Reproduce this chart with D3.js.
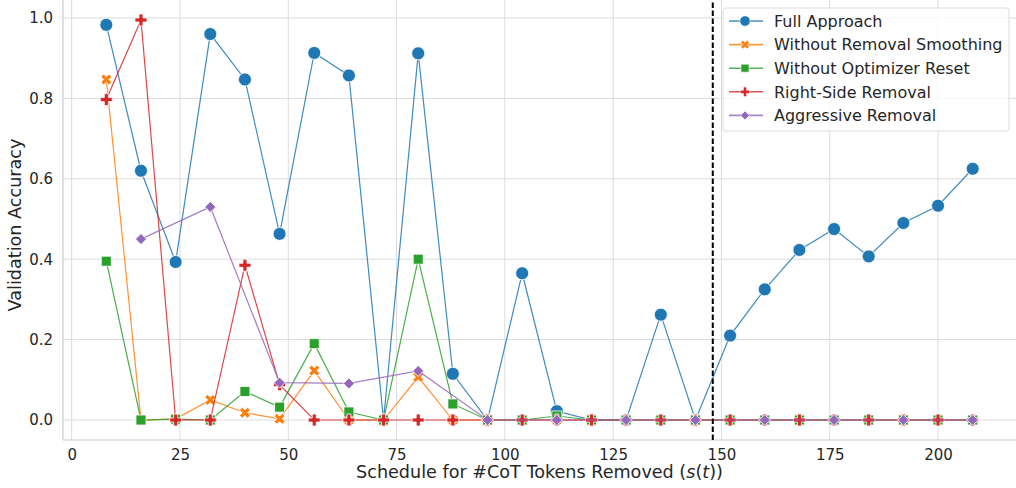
<!DOCTYPE html>
<html>
<head>
<meta charset="utf-8">
<script src="https://cdn.jsdelivr.net/npm/d3@7"></script>
<style>
  body { margin: 0; background: #fff; }
  svg { font-family: "DejaVu Sans", sans-serif; }
</style>
</head>
<body>
<div id="chart"></div>
<script>
// schedule steps
var stepsAll = d3.range(8, 209, 8);
var stepsAggr = d3.range(16, 209, 16);

var fullApproach = [0.983, 0.620, 0.393, 0.960, 0.847, 0.463, 0.913, 0.857, 0.0, 0.912, 0.115, 0.0, 0.365,
    0.022, 0.0, 0.0, 0.262, 0.0, 0.210, 0.325, 0.423, 0.475, 0.407, 0.490, 0.533, 0.625];
var noSmoothing = [0.847, 0.0, 0.003, 0.050, 0.018, 0.003, 0.123, 0.0, 0.0, 0.107, 0.0, 0.0, 0.0,
    0.0, 0.0, 0.0, 0.0, 0.0, 0.0, 0.0, 0.0, 0.0, 0.0, 0.0, 0.0, 0.0];
var noOptReset = [0.395, 0.0, 0.002, 0.0, 0.071, 0.032, 0.190, 0.020, 0.0, 0.400, 0.040, 0.0, 0.0,
    0.010, 0.0, 0.0, 0.0, 0.0, 0.0, 0.0, 0.0, 0.0, 0.0, 0.0, 0.0, 0.0];
var rightSide = [0.797, 0.995, 0.0, 0.0, 0.385, 0.088, 0.0, 0.0, 0.0, 0.0, 0.0, 0.0, 0.0,
    0.0, 0.0, 0.0, 0.0, 0.0, 0.0, 0.0, 0.0, 0.0, 0.0, 0.0, 0.0, 0.0];
var aggressive = [0.450, 0.530, 0.093, 0.091, 0.122, 0.0, 0.0, 0.0, 0.0, 0.0, 0.0, 0.0, 0.0];

var seriesNames = ['Full Approach', 'Without Removal Smoothing', 'Without Optimizer Reset',
    'Right-Side Removal', 'Aggressive Removal'];
var seriesColors = ['#1f77b4', '#ff7f0e', '#2ca02c', '#d62728', '#9467bd'];
var seriesMarkers = ['circle', 'x', 'square', 'plus', 'diamond'];
var cutoff = 148;

var xTicks = [0, 25, 50, 75, 100, 125, 150, 175, 200];
var yTicks = [0.0, 0.2, 0.4, 0.6, 0.8, 1.0];

var series = [
    { x: stepsAll, y: fullApproach },
    { x: stepsAll, y: noSmoothing },
    { x: stepsAll, y: noOptReset },
    { x: stepsAll, y: rightSide },
    { x: stepsAggr, y: aggressive }
].map(function(s, i) {
    return {
        name: seriesNames[i],
        color: seriesColors[i],
        marker: seriesMarkers[i],
        points: s.x.map(function(v, j) { return { x: v, y: s.y[j] }; })
    };
});

var width = 1016, height = 488;
var m = { top: 0, right: 0, bottom: 48, left: 63 };

var svg = d3.select('#chart').append('svg')
    .attr('width', width)
    .attr('height', height);

var x = d3.scaleLinear().domain([-2, 218]).range([m.left, width - m.right]);
var y = d3.scaleLinear().domain([-0.0497, 1.0447]).range([height - m.bottom, m.top]);

var textColor = '#262626';
var gridColor = '#dcdcdc';

// grid
svg.append('g').selectAll('line.gx')
    .data(xTicks).enter().append('line')
    .attr('x1', function(d) { return x(d); }).attr('x2', function(d) { return x(d); })
    .attr('y1', y.range()[0]).attr('y2', y.range()[1])
    .attr('stroke', gridColor).attr('stroke-width', 1);
svg.append('g').selectAll('line.gy')
    .data(yTicks).enter().append('line')
    .attr('y1', function(d) { return y(d); }).attr('y2', function(d) { return y(d); })
    .attr('x1', x.range()[0]).attr('x2', x.range()[1])
    .attr('stroke', gridColor).attr('stroke-width', 1);

// spines
svg.append('line').attr('x1', x.range()[0]).attr('x2', x.range()[0])
    .attr('y1', y.range()[0]).attr('y2', y.range()[1])
    .attr('stroke', '#cccccc').attr('stroke-width', 1.2);
svg.append('line').attr('x1', x.range()[0]).attr('x2', x.range()[1])
    .attr('y1', y.range()[0]).attr('y2', y.range()[0])
    .attr('stroke', '#cccccc').attr('stroke-width', 1.2);

// axes (labels only, seaborn whitegrid has no tick marks)
var xAxis = svg.append('g')
    .attr('transform', 'translate(0,' + y.range()[0] + ')')
    .call(d3.axisBottom(x).tickValues(xTicks).tickSize(0).tickPadding(9).tickFormat(d3.format('d')));
var yAxis = svg.append('g')
    .attr('transform', 'translate(' + x.range()[0] + ',0)')
    .call(d3.axisLeft(y).tickValues(yTicks).tickSize(0).tickPadding(10).tickFormat(d3.format('.1f')));
[xAxis, yAxis].forEach(function(a) {
    a.select('.domain').remove();
    a.selectAll('text').attr('fill', textColor)
        .style('font-size', '15px').style('font-family', '"DejaVu Sans", sans-serif');
});

// axis titles
var xl = svg.append('text')
    .attr('x', (x.range()[0] + x.range()[1]) / 2)
    .attr('y', 478)
    .attr('text-anchor', 'middle')
    .attr('fill', textColor)
    .style('font-size', '17.6px');
xl.append('tspan').text('Schedule for #CoT Tokens Removed (');
xl.append('tspan').attr('font-style', 'italic').text('s');
xl.append('tspan').text('(');
xl.append('tspan').attr('font-style', 'italic').text('t');
xl.append('tspan').text('))');

svg.append('text')
    .attr('transform', 'translate(21,225) rotate(-90)')
    .attr('text-anchor', 'middle')
    .attr('fill', textColor)
    .style('font-size', '17.6px')
    .text('Validation Accuracy');

// marker paths
function markerPath(type, s) {
    var h = s / 2;
    if (type === 'circle') {
        return d3.symbol(d3.symbolCircle, Math.PI * h * h)();
    }
    if (type === 'square') {
        return 'M' + (-h) + ',' + (-h) + 'H' + h + 'V' + h + 'H' + (-h) + 'Z';
    }
    if (type === 'diamond') {
        return 'M0,' + (-h) + 'L' + h + ',0L0,' + h + 'L' + (-h) + ',0Z';
    }
    if (type === 'plus') {
        var t = h / 3;
        return 'M' + (-t) + ',' + (-h) + 'H' + t + 'V' + (-t) + 'H' + h + 'V' + t + 'H' + t + 'V' + h +
            'H' + (-t) + 'V' + t + 'H' + (-h) + 'V' + (-t) + 'H' + (-t) + 'Z';
    }
    // filled X: a plus, rotated 45 degrees where it is placed
    return markerPath('plus', s * 1.05);
}
var markerSize = { circle: 13, x: 11, square: 10, plus: 12, diamond: 11 };

var line = d3.line()
    .x(function(d) { return x(d.x); })
    .y(function(d) { return y(d.y); });

series.forEach(function(s) {
    var g = svg.append('g');
    g.append('path')
        .attr('d', line(s.points))
        .attr('fill', 'none')
        .attr('stroke', s.color)
        .attr('stroke-opacity', 0.85)
        .attr('stroke-width', 1.2);
    g.selectAll('path.mk')
        .data(s.points).enter().append('path')
        .attr('class', 'mk')
        .attr('d', markerPath(s.marker, markerSize[s.marker]))
        .attr('transform', function(d) {
            return 'translate(' + x(d.x) + ',' + y(d.y) + ')' + (s.marker === 'x' ? ' rotate(45)' : '');
        })
        .attr('fill', s.color)
        .attr('stroke', '#fff')
        .attr('stroke-width', 0.8);
});

// cutoff line
svg.append('line')
    .attr('x1', x(cutoff)).attr('x2', x(cutoff))
    .attr('y1', y.range()[0]).attr('y2', y.range()[1])
    .attr('stroke', '#000')
    .attr('stroke-width', 2)
    .attr('stroke-dasharray', '5.5,2.5');

// legend
var lg = svg.append('g').attr('transform', 'translate(723,8)');
lg.append('rect')
    .attr('width', 286).attr('height', 123)
    .attr('rx', 3)
    .attr('fill', '#fff').attr('fill-opacity', 0.8)
    .attr('stroke', '#dddddd').attr('stroke-width', 1);
series.forEach(function(s, i) {
    var cy = 13 + i * 23.6;
    var e = lg.append('g').attr('transform', 'translate(0,' + cy + ')');
    e.append('line').attr('x1', 6).attr('x2', 40)
        .attr('stroke', s.color).attr('stroke-opacity', 0.8).attr('stroke-width', 1.6);
    e.append('path')
        .attr('d', markerPath(s.marker, markerSize[s.marker] * 0.8))
        .attr('transform', 'translate(22,0)' + (s.marker === 'x' ? ' rotate(45)' : ''))
        .attr('fill', s.color).attr('stroke', '#fff').attr('stroke-width', 0.6);
    e.append('text')
        .attr('x', 51).attr('y', 5.8)
        .attr('fill', textColor)
        .style('font-size', '16px')
        .text(s.name);
});
</script>
</body>
</html>
